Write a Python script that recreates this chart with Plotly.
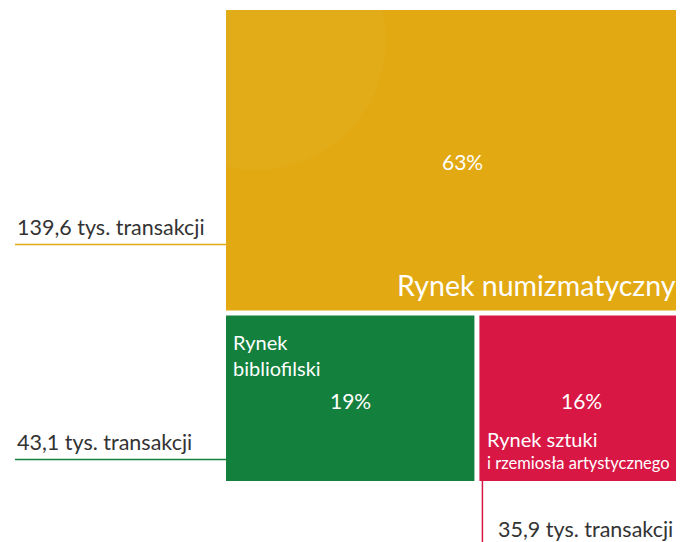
import plotly.graph_objects as go

# ---- data ----
markets = ["Rynek numizmatyczny", "Rynek bibliofilski", "Rynek sztuki"]
transactions = [139.6, 43.1, 35.9]          # tys. transakcji
shares = [63, 19, 16]                        # %
callout_labels = ["139,6 tys. transakcji", "43,1 tys. transakcji", "35,9 tys. transakcji"]
colors = ["#E2A913", "#13803D", "#D81745"]

W, H = 684, 542
OFF = 8   # page body margin
FONT = "Lato"

# treemap area (in pixel-like axis units)
X0, X1, Y0, Y1 = 226, 698, 10, 481
GAP = 5

total = sum(transactions)
top_h = (Y1 - Y0 - GAP) * (transactions[0] / total) * 1.01
yb0 = Y0 + top_h + GAP
rest = transactions[1] + transactions[2]
bw = (X1 - X0 - GAP)
gx1 = X0 + bw * transactions[1] / rest * 0.975

rects = [
    (X0, Y0, X1, Y0 + top_h),
    (X0, yb0, gx1, Y1),
    (gx1 + GAP, yb0, X1, Y1),
]

fig = go.Figure()
fig.add_trace(go.Scatter(x=[OFF, W], y=[OFF, H], mode="markers", marker=dict(opacity=0), hoverinfo="skip", showlegend=False))

for (a, b, c, d), col in zip(rects, colors):
    fig.add_shape(type="rect", x0=a, y0=b, x1=c, y1=d, fillcolor=col, line=dict(width=0), layer="below")

# very subtle highlight on the big tile
fig.add_shape(type="circle", x0=rects[0][0] - 100, y0=rects[0][1] - 100, x1=rects[0][0] + 160, y1=rects[0][1] + 160,
              fillcolor="rgba(255,255,255,0.025)", line=dict(width=0), layer="below")

# callout lines
yl0 = rects[0][1] + (rects[0][3] - rects[0][1]) * 0.78
yl1 = rects[1][1] + (rects[1][3] - rects[1][1]) * 0.87
fig.add_shape(type="line", x0=15, x1=X0, y0=yl0, y1=yl0, line=dict(color=colors[0], width=1.5))
fig.add_shape(type="line", x0=15, x1=X0, y0=yl1, y1=yl1, line=dict(color=colors[1], width=1.5))
xr = rects[2][0] + 3
fig.add_shape(type="line", x0=xr, x1=xr, y0=Y1, y1=H, line=dict(color=colors[2], width=1.5))

dark = "#333333"
fig.add_annotation(x=15, y=yl0 - 2, text=callout_labels[0], showarrow=False, xanchor="left", yanchor="bottom",
                   font=dict(family=FONT, size=21.5, color=dark))
fig.add_annotation(x=15, y=yl1 - 2, text=callout_labels[1], showarrow=False, xanchor="left", yanchor="bottom",
                   font=dict(family=FONT, size=21.5, color=dark))
fig.add_annotation(x=xr + 14, y=529, text=callout_labels[2], showarrow=False, xanchor="left", yanchor="middle",
                   font=dict(family=FONT, size=21.5, color=dark))

white = "white"
# big tile
fig.add_annotation(x=462, y=161, text=f"{shares[0]}%", showarrow=False,
                   font=dict(family=FONT, size=21, color=white))
fig.add_annotation(x=678, y=285, text=markets[0], showarrow=False, xanchor="right", yanchor="middle",
                   font=dict(family=FONT, size=28.5, color=white))
# green tile
fig.add_annotation(x=231, y=342, text="Rynek", showarrow=False, xanchor="left", yanchor="middle",
                   font=dict(family=FONT, size=20, color=white))
fig.add_annotation(x=231, y=368, text="bibliofilski", showarrow=False, xanchor="left", yanchor="middle",
                   font=dict(family=FONT, size=20, color=white))
fig.add_annotation(x=350, y=400, text=f"{shares[1]}%", showarrow=False,
                   font=dict(family=FONT, size=21, color=white))
# red tile
fig.add_annotation(x=581, y=400, text=f"{shares[2]}%", showarrow=False,
                   font=dict(family=FONT, size=21, color=white))
fig.add_annotation(x=485, y=439, text=markets[2], showarrow=False, xanchor="left", yanchor="middle",
                   font=dict(family=FONT, size=20, color=white))
fig.add_annotation(x=485, y=463, text="i rzemiosła artystycznego", showarrow=False, xanchor="left", yanchor="middle",
                   font=dict(family=FONT, size=16.5, color=white))

fig.update_layout(
    width=W - OFF, height=H - OFF, margin=dict(l=0, r=0, t=0, b=0),
    paper_bgcolor="white", plot_bgcolor="white",
    xaxis=dict(range=[OFF, W], visible=False, fixedrange=True),
    yaxis=dict(range=[H, OFF], visible=False, fixedrange=True),
    showlegend=False,
)
fig.write_html("out.html", config={"displayModeBar": False})
